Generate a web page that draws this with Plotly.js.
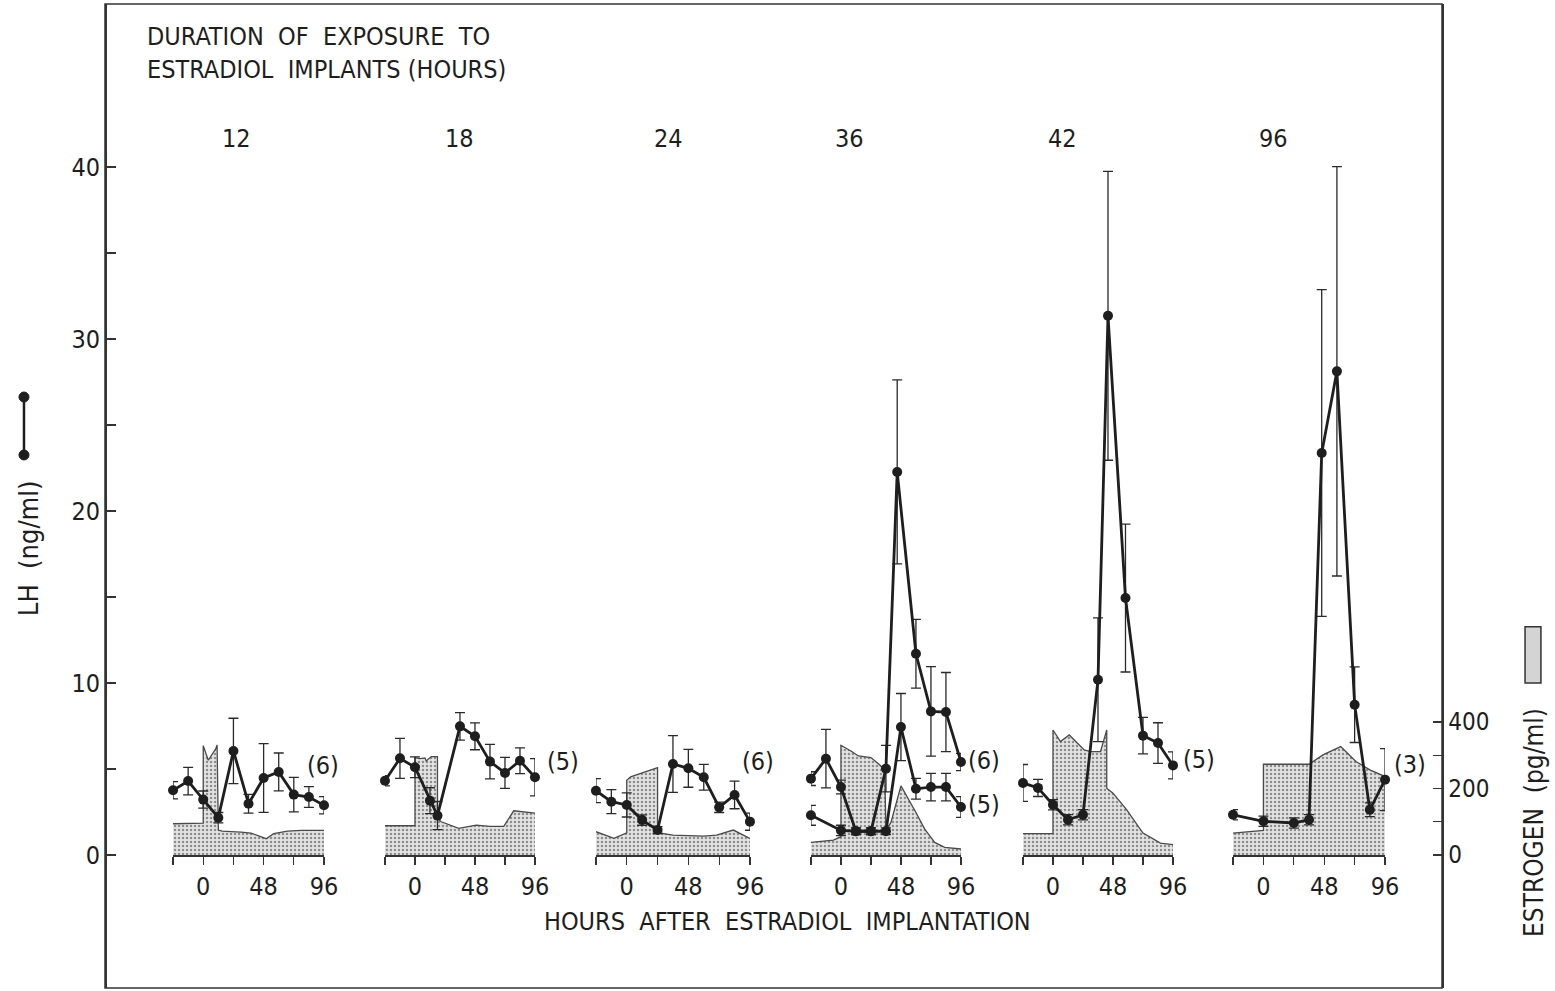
<!DOCTYPE html>
<html>
<head>
<meta charset="utf-8">
<script src="https://cdn.plot.ly/plotly-3.0.1.min.js"></script>
<style>
  html, body { margin: 0; padding: 0; background: #fff; }
  #chart { width: 1555px; height: 991px; }
</style>
</head>
<body>
<div id="chart"></div>
<script>
// Duration of estradiol exposure for each panel (hours)
const exposureLabels = ['12', '18', '24', '36', '42', '96'];
const groupSizes = ['(6)', '(5)', '(6)', '(6)', '(5)', '(3)'];

// Hour ticks shared by every panel
const hourTicks = [-24, 0, 24, 48, 72, 96];
const hourTickText = ['', '0', '', '48', '', '96'];

// LH (ng/ml), mean and SE, per exposure group
const lh12Hours = [-24, -12, 0, 12, 24, 36, 48, 60, 72, 84, 96];
const lh12 = [3.76, 4.30, 3.22, 2.17, 6.05, 2.98, 4.48, 4.83, 3.51, 3.37, 2.89];
const lh12Se = [0.5, 0.8, 0.5, 0.3, 1.9, 0.55, 2.0, 1.1, 1.0, 0.6, 0.5];

const lh18Hours = [-24, -12, 0, 12, 18, 36, 48, 60, 72, 84, 96];
const lh18 = [4.32, 5.62, 5.10, 3.16, 2.29, 7.48, 6.90, 5.43, 4.77, 5.48, 4.52];
const lh18Se = [0.3, 1.16, 0.6, 0.75, 0.82, 0.8, 0.78, 1.0, 0.9, 0.75, 1.08];

const lh24Hours = [-24, -12, 0, 12, 24, 36, 48, 60, 72, 84, 96];
const lh24 = [3.74, 3.10, 2.91, 2.03, 1.45, 5.29, 5.04, 4.52, 2.77, 3.49, 1.94];
const lh24Se = [0.7, 0.7, 0.7, 0.3, 0.2, 1.65, 1.1, 0.75, 0.3, 0.8, 0.5];

const lh36aHours = [-24, -12, 0, 12, 24, 36, 45, 60, 72, 84, 96];
const lh36a = [4.44, 5.60, 3.95, 1.38, 1.38, 5.02, 22.27, 11.70, 8.35, 8.31, 5.41];
const lh36aSe = [0.4, 1.7, 0.4, 0.2, 0.2, 1.35, 5.35, 2.0, 2.6, 2.3, 0.5];

const lh36bHours = [-24, 0, 12, 24, 36, 48, 60, 72, 84, 96];
const lh36b = [2.31, 1.43, 1.38, 1.38, 1.38, 7.44, 3.85, 3.95, 3.95, 2.79];
const lh36bSe = [0.58, 0.3, 0.2, 0.2, 0.2, 1.95, 0.6, 0.8, 0.8, 0.6];

const lh42Hours = [-24, -12, 0, 12, 24, 36, 44, 58, 72, 84, 96];
const lh42 = [4.19, 3.90, 2.92, 2.05, 2.34, 10.19, 31.35, 14.94, 6.94, 6.51, 5.21];
const lh42Se = [1.07, 0.5, 0.3, 0.3, 0.3, 3.6, 8.4, 4.3, 1.06, 1.18, 0.78];

const lh96Hours = [-24, 0, 24, 36, 46, 58, 72, 84, 96];
const lh96 = [2.34, 1.96, 1.86, 2.05, 23.37, 28.12, 8.74, 2.63, 4.38];
const lh96Se = [0.3, 0.3, 0.3, 0.3, 9.5, 11.9, 2.2, 0.4, 1.8];

// Plasma estrogen (pg/ml) per exposure group
const e12Hours = [-24, -12, 0, 0, 4, 10, 11, 12, 15, 30, 38, 50, 56, 67, 78, 96];
const e12 = [94, 94, 96, 329, 285, 320, 331, 75, 72, 69, 66, 49, 64, 72, 74, 74];

const e18Hours = [-24, 0, 0, 4, 8, 9, 13, 18, 18, 21, 35, 49, 60, 71, 79, 96];
const e18 = [88, 88, 293, 290, 292, 283, 296, 296, 110, 100, 80, 90, 86, 86, 133, 126];

const e24Hours = [-24, -10, 0, 0, 3, 24, 24, 36, 60, 70, 83, 96];
const e24 = [70, 50, 67, 225, 235, 263, 67, 60, 57, 60, 75, 50];

const e36Hours = [-24, -6, 0, 0, 8, 14, 24, 32, 35, 36, 40, 48, 60, 67, 75, 83, 96];
const e36 = [38, 45, 55, 330, 313, 298, 293, 268, 255, 75, 98, 208, 128, 78, 38, 23, 18];

const e42Hours = [-24, 0, 0, 6, 13, 25, 30, 38, 43, 43, 48, 59, 72, 86, 96];
const e42 = [64, 64, 376, 341, 361, 316, 311, 311, 376, 201, 186, 136, 66, 36, 31];

const e96Hours = [-24, 0, 0, 36, 47, 61, 73, 84, 96];
const e96 = [66, 74, 273, 273, 301, 326, 281, 256, 236];

const FONT = '"Liberation Sans Narrow", "DejaVu Sans Condensed", "Arial Narrow", "Liberation Sans", sans-serif';
const INK = '#1e1e1e';

// Horizontal extent of each panel inside the frame (paper fractions)
const panelDomains = [
  [0.0509, 0.1638], [0.2094, 0.3216], [0.3672, 0.4824],
  [0.5280, 0.6402], [0.6866, 0.7988], [0.8437, 0.9574]
];
const baseline = 0.13516; // where LH = 0 and estrogen = 0 sit

const estrogenSeries = [
  [e12Hours, e12], [e18Hours, e18], [e24Hours, e24],
  [e36Hours, e36], [e42Hours, e42], [e96Hours, e96]
];
const lhSeries = [
  [0, lh12Hours, lh12, lh12Se], [1, lh18Hours, lh18, lh18Se],
  [2, lh24Hours, lh24, lh24Se], [3, lh36bHours, lh36b, lh36bSe],
  [3, lh36aHours, lh36a, lh36aSe], [4, lh42Hours, lh42, lh42Se],
  [5, lh96Hours, lh96, lh96Se]
];

const axisId = i => (i === 0 ? 'x' : 'x' + (i + 1));
const traces = [];

// estrogen areas sit on the base y axis so the LH overlay is drawn above them
estrogenSeries.forEach(([h, v], i) => {
  traces.push({
    type: 'scatter', mode: 'lines', x: h, y: v,
    xaxis: axisId(i), yaxis: 'y',
    fill: 'tozeroy',
    fillcolor: '#dedede',
    fillpattern: { shape: '.', fgcolor: '#8c8c8c', bgcolor: '#e4e4e4', size: 4, solidity: 0.3 },
    line: { color: '#4a4a4a', width: 1.3 },
    hoverinfo: 'skip', showlegend: false
  });
});

lhSeries.forEach(([p, h, v, se]) => {
  traces.push({
    type: 'scatter', mode: 'lines+markers', x: h, y: v,
    xaxis: axisId(p), yaxis: 'y2',
    line: { color: INK, width: 2.8 },
    marker: { color: INK, size: 10 },
    error_y: { type: 'data', array: se, visible: true, color: '#2a2a2a', thickness: 1.3, width: 5 },
    cliponaxis: false, showlegend: false
  });
});

const layout = {
  width: 1555, height: 991,
  margin: { l: 105, r: 113, t: 4, b: 3 },
  paper_bgcolor: '#ffffff', plot_bgcolor: '#ffffff',
  font: { family: FONT, color: INK, size: 24 },
  showlegend: false,
  // estrogen (pg/ml), right side
  yaxis: {
    domain: [0, 1], range: [-400, 2559.4], anchor: 'free', position: 1, side: 'right',
    showline: true, linecolor: '#333', linewidth: 1.5,
    ticks: 'inside', ticklen: 9, tickwidth: 1.3, tickcolor: '#333',
    tickvals: [0, 100, 200, 300, 400], ticktext: ['0', '', '200', '', '400'],
    tickfont: { size: 24 }, showgrid: false, zeroline: false, fixedrange: true
  },
  // LH (ng/ml), left side
  yaxis2: {
    overlaying: 'y', side: 'left', anchor: 'free', position: 0,
    range: [-7.733, 49.477],
    showline: true, linecolor: '#333', linewidth: 1.5,
    ticks: 'inside', ticklen: 9, tickwidth: 1.3, tickcolor: '#333',
    tickvals: [0, 5, 10, 15, 20, 25, 30, 35, 40],
    ticktext: ['0', '', '10', '', '20', '', '30', '', '40'],
    tickfont: { size: 25 }, showgrid: false, zeroline: false, fixedrange: true
  },
  shapes: [
    { type: 'rect', xref: 'paper', yref: 'paper', x0: 0, x1: 1, y0: 0, y1: 1,
      line: { color: '#333', width: 1.5 } },
    // LH legend glyph beside the axis title
    { type: 'line', xref: 'paper', yref: 'paper', x0: -0.0606, x1: -0.0606, y0: 0.5417, y1: 0.6006,
      line: { color: INK, width: 2.5 } },
    { type: 'circle', xref: 'paper', yref: 'paper', xsizemode: 'pixel', ysizemode: 'pixel',
      xanchor: -0.0606, yanchor: 0.6006, x0: -5, x1: 5, y0: -5, y1: 5,
      fillcolor: INK, line: { color: INK, width: 1 } },
    { type: 'circle', xref: 'paper', yref: 'paper', xsizemode: 'pixel', ysizemode: 'pixel',
      xanchor: -0.0606, yanchor: 0.5417, x0: -5, x1: 5, y0: -5, y1: 5,
      fillcolor: INK, line: { color: INK, width: 1 } },
    // estrogen legend swatch
    { type: 'rect', xref: 'paper', yref: 'paper', x0: 1.0621, x1: 1.0740, y0: 0.310, y1: 0.367,
      fillcolor: '#d4d4d4', line: { color: '#333', width: 1.5 } }
  ],
  annotations: [
    { xref: 'paper', yref: 'paper', x: 0.0299, y: 0.984, xanchor: 'left', yanchor: 'top', align: 'left',
      text: 'DURATION  OF  EXPOSURE  TO<br>ESTRADIOL  IMPLANTS (HOURS)', showarrow: false,
      font: { size: 25 } },
    { xref: 'paper', yref: 'paper', x: 0.5101, y: 0.0671, xanchor: 'center', yanchor: 'middle',
      text: 'HOURS  AFTER  ESTRADIOL  IMPLANTATION', showarrow: false, font: { size: 25 } },
    { xref: 'paper', yref: 'paper', x: -0.0576, y: 0.447, xanchor: 'center', yanchor: 'middle',
      textangle: -90, text: 'LH  (ng/ml)', showarrow: false, font: { size: 27 } },
    { xref: 'paper', yref: 'paper', x: 1.0688, y: 0.1687, xanchor: 'center', yanchor: 'middle',
      textangle: -90, text: 'ESTROGEN  (pg/ml)', showarrow: false, font: { size: 26 } }
  ]
};

const labelX = [0.0987, 0.2655, 0.4211, 0.5565, 0.7165, 0.8736];
exposureLabels.forEach((t, i) => {
  layout.annotations.push({ xref: 'paper', yref: 'paper', x: labelX[i], y: 0.8638,
    xanchor: 'center', yanchor: 'middle', text: t, showarrow: false, font: { size: 25 } });
});

// group size labels, set at the right end of each panel
const sizeLabelSpots = [
  [0, 5.23, -1], [1, 5.41, 28], [2, 5.41, 8], [3, 5.52, 23], [4, 5.58, 26], [5, 5.29, 25]
];
sizeLabelSpots.forEach(([p, y, dx]) => {
  layout.annotations.push({ xref: axisId(p), yref: 'y2', x: 96, y: y, xshift: dx,
    xanchor: 'center', yanchor: 'middle', text: groupSizes[p], showarrow: false, font: { size: 25 } });
});
layout.annotations.push({ xref: 'x4', yref: 'y2', x: 96, y: 2.91, xshift: 23,
  xanchor: 'center', yanchor: 'middle', text: '(5)', showarrow: false, font: { size: 25 } });

panelDomains.forEach((d, i) => {
  layout[i === 0 ? 'xaxis' : 'xaxis' + (i + 1)] = {
    domain: d, range: [-24, 96], anchor: 'free', position: baseline,
    showline: true, linecolor: '#333', linewidth: 1.5,
    ticks: 'outside', ticklen: 8, tickwidth: 1.3, tickcolor: '#333',
    tickvals: hourTicks, ticktext: hourTickText,
    tickfont: { size: 25 }, showgrid: false, zeroline: false, fixedrange: true
  };
});

Plotly.newPlot('chart', traces, layout, { staticPlot: true, displayModeBar: false });
</script>
</body>
</html>
